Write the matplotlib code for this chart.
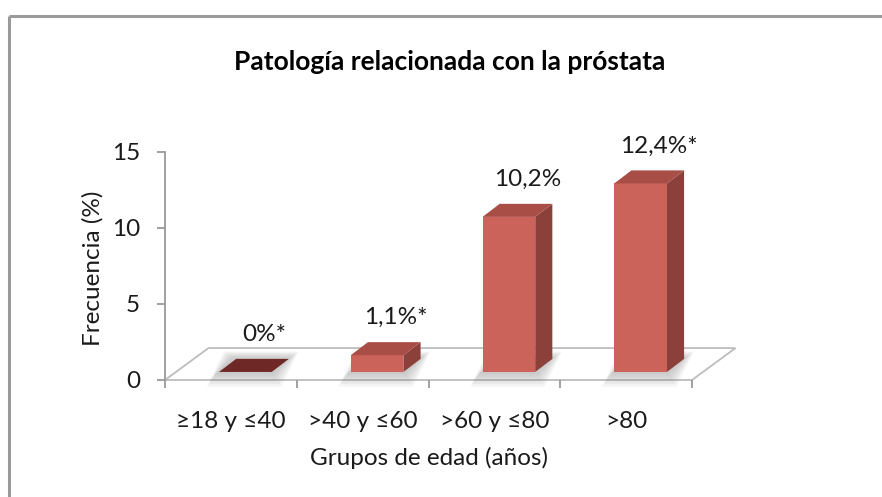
import numpy as np
import matplotlib.pyplot as plt
from matplotlib.patches import Polygon

# datos del grafico
grupos = ['≥18 y ≤40', '>40 y ≤60', '>60 y ≤80', '>80']
frecuencia = [0.0, 1.1, 10.2, 12.4]
etiquetas = ['0%*', '1,1%*', '10,2%', '12,4%*']
y_ticks = [0, 5, 10, 15]

plt.rcParams['font.family'] = ['Lato', 'DejaVu Sans']

W, H = 882, 497
fs = 17.5  # tamaño de texto normal
fig = plt.figure(figsize=(W / 100, H / 100), dpi=100)

# fondo en pixeles: marco, titulo y rotulos
bg = fig.add_axes([0, 0, 1, 1])
bg.set_xlim(0, W)
bg.set_ylim(H, 0)
bg.axis('off')
bg.plot([9, W], [16, 16], color='#9a9a9a', lw=2.2, solid_capstyle='butt')
bg.plot([9, 9], [16, H], color='#9a9a9a', lw=2.2, solid_capstyle='butt')
bg.text(450, 62, 'Patología relacionada con la próstata', ha='center', va='center',
        fontsize=19, fontweight='bold', color='black')
bg.text(93, 268, 'Frecuencia (%)', rotation=90, ha='center', va='center',
        fontsize=fs, color='#1a1a1a')
bg.text(429, 458, 'Grupos de edad (años)', ha='center', va='center',
        fontsize=fs, color='#1a1a1a')

# ejes del grafico (frente del suelo 3D)
ax = fig.add_axes([165 / W, (H - 380) / H, 527 / W, 228 / H])
ax.set_xlim(-0.5, 3.5)
ax.set_ylim(0, 15)
ax.patch.set_alpha(0)
for s in ['top', 'right', 'bottom']:
    ax.spines[s].set_visible(False)
ax.spines['left'].set_color('#9a9a9a')
ax.spines['left'].set_linewidth(1.3)

x = np.arange(len(grupos))
ax.set_yticks(y_ticks)
ax.set_xticks(x)
ax.set_xticklabels(grupos)
ax.set_xticks(np.arange(len(grupos) + 1) - 0.5, minor=True)
ax.tick_params(axis='y', length=6, width=1.3, color='#9a9a9a', pad=12,
               labelsize=fs, labelcolor='#1a1a1a')
ax.tick_params(axis='x', which='major', length=0, pad=22, labelsize=fs,
               labelcolor='#1a1a1a')
ax.tick_params(axis='x', which='minor', length=6, width=1.3, color='#9a9a9a')

# profundidad del suelo y de las barras (unidades de datos)
fdx, fdy = 0.33, 2.1
left, width, base = -0.09, 0.40, 0.53
ddx, ddy = 0.13, 0.86

x0, x1 = ax.get_xlim()
floor = Polygon([(x0, 0), (x1, 0), (x1 + fdx, fdy), (x0 + fdx, fdy)], closed=True,
                facecolor='white', edgecolor='#bdbdbd', lw=1.3, zorder=1, clip_on=False)
ax.add_patch(floor)

c_front = '#cb635b'
c_top = '#a84e46'
c_side = '#8c403a'
c_zero = '#6e2826'

for i, v in enumerate(frecuencia):
    xl = x[i] + left
    xr = xl + width
    # sombra difusa bajo la barra
    for k in range(6):
        gx = 0.012 * (k + 1)
        gy = 0.16 * (k + 1)
        sh = Polygon([(xl - gx - 0.02, base - gy), (xr + gx, base - gy),
                      (xr + ddx + gx, base + ddy + gy * 0.5), (xl + ddx - gx - 0.02, base + ddy + gy * 0.5)],
                     closed=True, facecolor='#7f7f7f', edgecolor='none', alpha=0.08,
                     zorder=2, clip_on=False)
        ax.add_patch(sh)
    top = base + v
    if v > 0:
        ax.bar(xl, v, width=width, bottom=base, align='edge', color=c_front,
               edgecolor='none', zorder=4, clip_on=False)
        side = Polygon([(xr, base), (xr + ddx, base + ddy), (xr + ddx, top + ddy), (xr, top)],
                       closed=True, facecolor=c_side, edgecolor='none', zorder=4, clip_on=False)
        ax.add_patch(side)
        tcol = c_top
    else:
        tcol = c_zero
    tp = Polygon([(xl, top), (xr, top), (xr + ddx, top + ddy), (xl + ddx, top + ddy)],
                 closed=True, facecolor=tcol, edgecolor='none', zorder=4, clip_on=False)
    ax.add_patch(tp)
    ax.text(x[i] + 0.25, v + 3.0, etiquetas[i], ha='center', va='center',
            fontsize=fs, color='#1a1a1a', zorder=5)

fig.savefig('out.png', dpi=100)
